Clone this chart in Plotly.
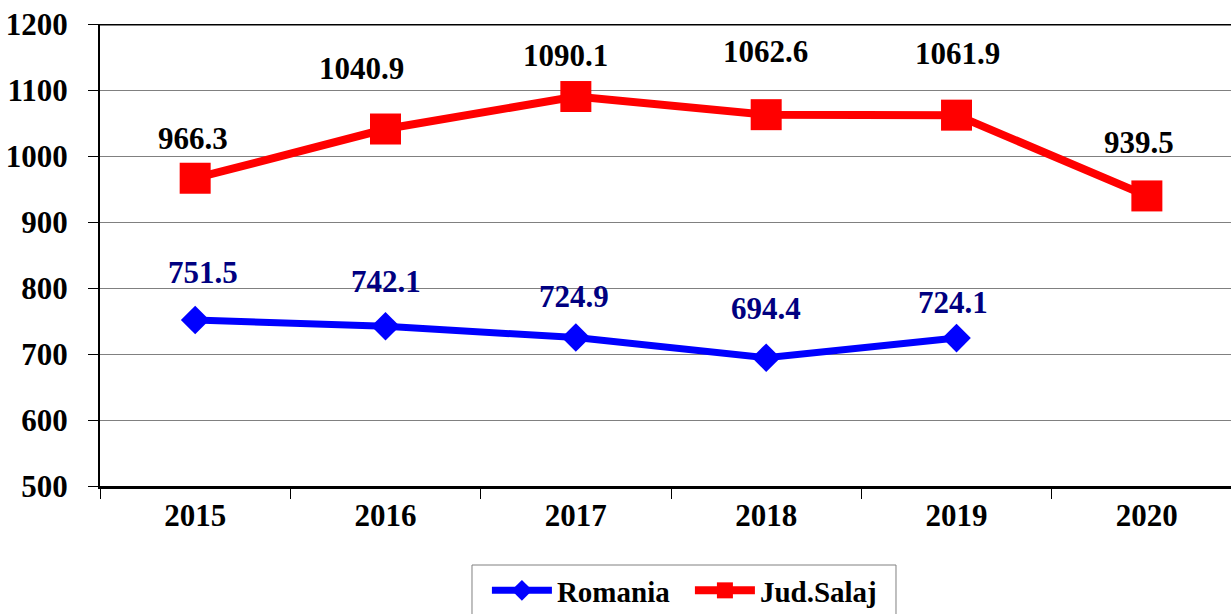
import plotly.graph_objects as go

years = ["2015", "2016", "2017", "2018", "2019", "2020"]
romania = [751.5, 742.1, 724.9, 694.4, 724.1, None]
salaj = [966.3, 1040.9, 1090.1, 1062.6, 1061.9, 939.5]
y_ticks = [500, 600, 700, 800, 900, 1000, 1100, 1200]

# label offsets (px) -- styling only
rom_dx = [8, 0, -2, 0, -4, 0]
rom_dy = [48, 45, 41, 49, 36, 0]
sal_dx = [-2, -24, -10, -1, 1, -8]
sal_dy = [40, 61, 41, 63, 62, 53]

FONT = "Liberation Serif, Times New Roman, serif"

fig = go.Figure()
fig.add_trace(go.Scatter(
    x=years, y=romania, name="<b>Romania</b>", mode="lines+markers",
    line=dict(color="#0000FF", width=7),
    marker=dict(symbol="diamond", size=22, color="#0000FF"),
))
fig.add_trace(go.Scatter(
    x=years, y=salaj, name="<b>Jud.Salaj</b>", mode="lines+markers",
    line=dict(color="#FF0000", width=8),
    marker=dict(symbol="square", size=31, color="#FF0000"),
))

for i, v in enumerate(romania):
    if v is None:
        continue
    fig.add_annotation(x=i, y=v, xref="x", yref="y", text=f"<b>{v:.1f}</b>", showarrow=False,
                       xshift=rom_dx[i], yshift=rom_dy[i],
                       font=dict(family=FONT, size=31, color="#000080"))
for i, v in enumerate(salaj):
    fig.add_annotation(x=i, y=v, xref="x", yref="y", text=f"<b>{v:.1f}</b>", showarrow=False,
                       xshift=sal_dx[i], yshift=sal_dy[i],
                       font=dict(family=FONT, size=31, color="#000000"))

# top border of plot area
fig.add_shape(type="line", xref="paper", yref="y", x0=0, x1=1, y0=1200, y1=1200,
              line=dict(color="black", width=3))
# legend frame
fig.add_shape(type="rect", xref="paper", yref="paper", x0=0.3289, x1=0.7038, y0=-0.171, y1=-0.40,
              line=dict(color="#808080", width=1), fillcolor="rgba(0,0,0,0)")

fig.update_layout(
    width=1231, height=614,
    margin=dict(l=100, r=0, t=24, b=128, autoexpand=False),
    paper_bgcolor="white", plot_bgcolor="white",
    font=dict(family=FONT, size=29, color="black"),
    showlegend=True,
    legend=dict(orientation="h", x=0.3421, xanchor="left", y=-0.171, yanchor="top",
                borderwidth=0, bgcolor="rgba(0,0,0,0)",
                font=dict(family=FONT, size=29, color="black"),
                itemwidth=60, entrywidth=128, traceorder="normal"),
    xaxis=dict(type="category", range=[-0.5, 5.442], showgrid=False, automargin=False,
               showline=True, linecolor="black", linewidth=3,
               ticks="outside", tickson="boundaries", ticklen=10, tickcolor="black", tickwidth=1,
               tickfont=dict(family=FONT, size=31, color="black"),
               tickprefix="<b>", ticksuffix="</b>", zeroline=False),
    yaxis=dict(range=[500, 1200], tickvals=y_ticks, automargin=False,
               ticktext=[f"<b>{t}</b>" for t in y_ticks],
               showgrid=True, gridcolor="#808080", gridwidth=1,
               showline=True, linecolor="black", linewidth=2,
               ticks="outside", ticklen=10, tickcolor="black", tickwidth=1,
               ticklabelstandoff=14,
               tickfont=dict(family=FONT, size=31, color="black"),
               zeroline=False),
)

fig.write_html("out.html", config={"displayModeBar": False},
               post_script="document.body.style.margin='0px';document.body.style.overflow='hidden';")
